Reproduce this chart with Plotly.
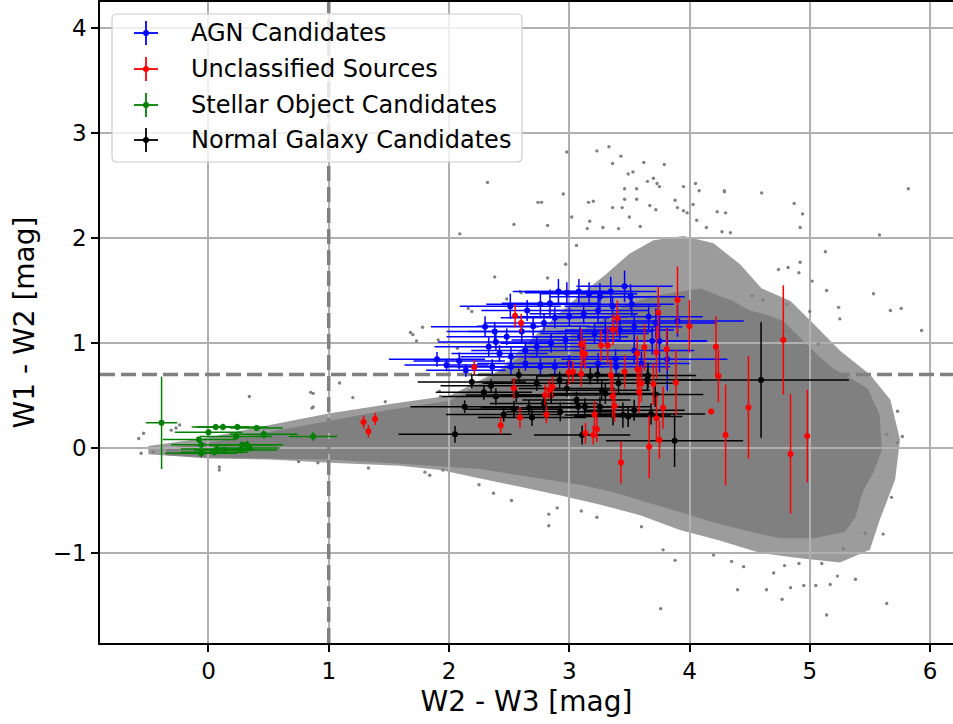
import plotly.graph_objects as go

# ---------------- data ----------------
# dense core of the background WISE population (outline, W2-W3 / W1-W2)
core_x = [-0.35, 0.0, 0.49, 1.01, 1.48, 2.01, 2.3, 2.6, 2.9, 3.2, 3.45, 3.7, 4.09, 4.36, 4.5, 4.64, 4.78,
          4.92, 5.06, 5.19, 5.33, 5.48, 5.58, 5.6, 5.53, 5.44, 5.38, 5.29, 5.03, 4.75, 4.48, 4.2, 3.92,
          3.65, 3.36, 3.09, 2.81, 2.53, 2.26, 2.01, 1.59, 1.01, 0.49, 0.0, -0.35]
core_y = [0.0, 0.05, 0.15, 0.26, 0.36, 0.45, 0.64, 0.87, 1.02, 1.17, 1.35, 1.45, 1.52, 1.40, 1.31, 1.27, 1.21,
          1.05, 0.89, 0.76, 0.67, 0.57, 0.32, -0.02, -0.23, -0.42, -0.66, -0.80, -0.86, -0.86, -0.79, -0.71, -0.61,
          -0.52, -0.42, -0.35, -0.30, -0.25, -0.20, -0.18, -0.15, -0.11, -0.10, -0.09, -0.07]
# sparser halo around the core (outline)
halo_x = [-0.5, 0.0, 0.51, 1.01, 1.51, 2.01, 2.42, 2.76, 3.05, 3.3, 3.5, 3.7, 3.95, 4.2, 4.42, 4.6, 4.84, 5.0,
          5.25, 5.5, 5.67, 5.75, 5.71, 5.58, 5.5, 5.25, 4.92, 4.59, 4.25, 3.92, 3.59, 3.26, 2.92, 2.59, 2.26,
          1.93, 1.59, 1.01, 0.51, 0.0, -0.5]
halo_y = [0.02, 0.1, 0.22, 0.33, 0.42, 0.5, 0.74, 1.12, 1.42, 1.65, 1.85, 1.98, 2.02, 1.95, 1.75, 1.52, 1.40, 1.22,
          0.93, 0.7, 0.46, 0.08, -0.3, -0.69, -0.97, -1.09, -1.05, -1.0, -0.88, -0.78, -0.64, -0.54, -0.45, -0.37,
          -0.29, -0.21, -0.17, -0.14, -0.11, -0.1, -0.06]
# isolated background sources
field_x = [2.32, 2.09, 2.54, 2.74, 2.77, 2.82, 2.95, 2.98, 3.02, 3.23, 3.33, 3.36, 3.43, 3.49, 3.53, 3.62, 3.79,
           3.7, 3.65, 3.73, 3.75, 3.46, 3.56, 3.56, 3.46, 3.36, 3.16, 3.2, 3.17, 3.28, 3.44, 3.5, 3.67, 3.72,
           3.59, 3.88, 3.95, 4.05, 4.08, 4.29, 3.9, 4.03, 3.95, 3.98, 4.06, 4.14, 4.23, 4.3, 4.27, 4.34, 2.38,
           2.82, 2.59, 2.48, 2.97, 3.06, 3.15, 3.41,
           4.29, 4.6, 4.87, 4.94, 4.92, 5.82, 5.58, 5.13, 4.92, 4.82, 4.74, 4.91, 5.02, 5.14, 5.53, 5.24, 5.25,
           5.67, 5.76, 5.93, 5.0, 5.07, 4.52, 4.61, 4.81, 5.73, 5.77,
           3.76, 5.64, 5.14, 4.4, 4.77, 4.64, 4.84, 4.95, 5.05, 5.17, 5.38, 5.23, 5.68, 5.61, 5.73, 5.64, 2.83,
           2.83, 2.9, 2.52, 2.37, 3.88, 4.2, 4.35, 4.45, 4.7, 4.79, 4.91, 5.1, 5.28, 5.46, 3.78, 3.6, 3.23, 3.1,
           2.25, 1.95,
           0.34, 0.85, 0.87, 0.86, 0.87, 1.09, 1.2, 1.47, 1.92, 1.93, -0.58, -0.54, -0.56, -0.46, -0.31, -0.27,
           -0.24, 0.09, 0.09, 0.75, 0.91, 1.33, 1.8, 1.84,
           2.6, 2.16, 2.19, 1.78, 1.68, 1.7, 1.73, 1.91, 2.07]
field_y = [2.53, 2.04, 2.13, 2.34, 2.34, 2.12, 2.42, 2.82, 2.2, 2.83, 2.87, 2.71, 2.78, 2.61, 2.63, 2.72, 2.7,
           2.57, 2.54, 2.52, 2.49, 2.47, 2.47, 2.37, 2.37, 2.29, 2.34, 2.35, 2.16, 2.1, 2.29, 2.2, 2.31, 2.27,
           2.11, 2.36, 2.49, 2.52, 2.45, 2.45, 2.29, 2.32, 2.26, 2.24, 2.17, 2.1, 2.25, 2.24, 2.06, 2.05, 1.63,
           1.62, 1.49, 1.42, 1.75, 1.93, 2.09, 2.09,
           2.44, 2.43, 2.33, 2.23, 2.1, 2.47, 2.03, 1.87, 1.77, 1.72, 1.7, 1.67, 1.59, 1.5, 1.47, 1.34, 1.23,
           1.31, 1.33, 1.12, 1.3, 0.99, 1.45, 1.41, 1.37, 0.35, 0.11,
           -1.53, -1.48, -1.59, -1.35, -1.44, -1.35, -1.33, -1.31, -1.31, -1.3, -1.25, -1.22, -0.47, -0.82, 0.05,
           0.13, -0.74, -0.63, -0.57, -0.5, -0.43, -1.07, -1.02, -1.08, -1.13, -1.19, -1.12, -1.1, -1.1, -0.96,
           -0.81, -0.97, -0.75, -0.66, -0.6, -0.35, -0.21,
           0.49, 0.53, 0.52, 0.38, 0.39, 0.62, 0.48, 0.44, 0.54, 0.49, 0.09, 0.14, -0.05, -0.04, 0.17, 0.19,
           0.22, -0.21, -0.18, -0.13, -0.14, -0.19, -0.23, -0.26,
           1.48, 1.33, 1.3, 1.15, 1.1, 1.08, 1.02, 1.03, 0.95]

agn_x = [1.90, 1.98, 2.085, 2.14, 2.30, 2.38, 2.51, 2.65, 2.76, 2.84, 2.91, 2.98, 3.08, 3.165, 3.255, 3.345,
         3.46, 3.51, 3.52, 3.36, 3.24, 3.12, 3.0, 2.88, 2.79, 2.70, 2.605, 2.48, 2.39, 2.33, 2.42, 2.515, 2.635,
         2.73, 2.85, 2.97, 3.09, 3.21, 3.30, 3.42, 3.54, 3.69, 3.75, 3.815, 3.90, 3.385, 3.54, 3.0, 2.88, 2.76,
         2.635, 2.515, 2.36, 3.12, 3.24, 3.39, 3.60, 3.66, 3.72]
agn_y = [0.845, 0.79, 0.83, 0.74, 1.155, 1.11, 1.35, 1.31, 1.37, 1.38, 1.49, 1.48, 1.49, 1.47, 1.44, 1.49,
         1.54, 1.44, 1.37, 1.35, 1.31, 1.28, 1.25, 1.24, 1.19, 1.16, 1.11, 1.06, 1.01, 0.965, 0.90, 0.87, 0.93,
         0.965, 0.997, 1.03, 1.06, 1.09, 1.11, 1.125, 1.155, 1.02, 1.02, 0.845, 1.21, 0.845, 0.93, 0.806, 0.775,
         0.775, 0.806, 0.775, 0.775, 0.87, 0.806, 0.775, 0.806, 1.25, 1.19]
agn_xerr = [0.40, 0.35, 0.38, 0.33, 0.45, 0.40, 0.42, 0.38, 0.45, 0.40, 0.38, 0.35, 0.45, 0.40, 0.42, 0.38,
            0.40, 0.45, 0.35, 0.40, 0.42, 0.45, 0.48, 0.45, 0.50, 0.47, 0.45, 0.50, 0.48, 0.45, 0.40, 0.42, 0.45,
            0.40, 0.42, 0.45, 0.40, 0.45, 0.40, 0.45, 0.40, 0.45, 0.40, 0.50, 0.55, 0.45, 0.50, 0.42, 0.40, 0.42,
            0.40, 0.45, 0.40, 0.45, 0.42, 0.45, 0.40, 0.45, 0.50]
agn_yerr = [0.07, 0.06, 0.08, 0.06, 0.10, 0.09, 0.12, 0.10, 0.11, 0.13, 0.12, 0.10, 0.12, 0.11, 0.13, 0.14,
            0.15, 0.12, 0.11, 0.10, 0.11, 0.10, 0.09, 0.10, 0.09, 0.09, 0.10, 0.08, 0.08, 0.09, 0.08, 0.09, 0.08,
            0.10, 0.09, 0.10, 0.11, 0.10, 0.12, 0.11, 0.12, 0.13, 0.30, 0.30, 0.15, 0.10, 0.12, 0.08, 0.07, 0.08,
            0.07, 0.08, 0.07, 0.09, 0.10, 0.08, 0.11, 0.12, 0.14]

unc_x = [2.21, 2.55, 2.60, 2.43, 2.59, 2.54, 2.81, 2.80, 2.835, 2.86, 2.995, 3.03, 3.10, 3.10, 3.11, 3.13,
         3.135, 3.20, 3.23, 3.21, 3.265, 3.32, 3.364, 3.40, 3.346, 3.36, 3.376, 3.43, 3.46, 3.567, 3.58, 3.60,
         3.625, 3.565, 3.665, 3.70, 3.725, 3.74, 3.725, 3.75, 3.78, 3.81, 3.887, 3.90, 4.00, 4.18, 4.22, 4.24,
         4.30, 4.49, 4.78, 4.84, 4.98, 1.29, 1.33, 1.385]
unc_y = [0.77, 1.26, 1.19, 0.216, 0.29, 0.57, 0.317, 0.505, 0.556, 0.58, 0.72, 0.727, 0.705, 0.987, 0.908,
         0.895, 0.14, 0.124, 0.178, 0.32, 0.98, 0.98, 1.13, 1.235, 0.692, 0.49, 0.40, -0.137, 0.727, 0.75, 0.536,
         0.616, 0.959, 0.901, 0.013, 0.61, 0.91, 1.29, 0.283, 0.076, 0.384, 0.94, 0.625, 1.41, 1.16, 0.347, 0.965,
         0.686, 0.124, 0.387, 1.03, -0.057, 0.114, 0.248, 0.16, 0.276]
unc_yerr = [0.07, 0.11, 0.09, 0.08, 0.10, 0.10, 0.08, 0.10, 0.09, 0.10, 0.12, 0.10, 0.12, 0.15, 0.12, 0.14,
            0.10, 0.09, 0.12, 0.13, 0.15, 0.18, 0.15, 0.17, 0.15, 0.20, 0.15, 0.20, 0.16, 0.18, 0.20, 0.18, 0.22,
            0.16, 0.30, 0.20, 0.25, 0.25, 0.22, 0.18, 0.20, 0.20, 0.31, 0.32, 0.25, 0.0, 0.29, 0.25, 0.48, 0.49,
            0.52, 0.57, 0.44, 0.06, 0.06, 0.06]

star_x = [-0.39, 0.0, -0.08, -0.06, -0.06, 0.05, 0.07, 0.13, 0.27, 0.28, 0.32, 0.34, 0.23, 0.46, 0.87, 0.06,
          0.12, 0.24, 0.40]
star_y = [0.24, 0.15, 0.08, 0.03, -0.05, -0.04, -0.01, -0.02, -0.02, 0.03, 0.03, 0.0, 0.11, 0.13, 0.11, 0.2,
          0.2, 0.2, 0.19]
star_xerr = [0.13, 0.28, 0.3, 0.25, 0.3, 0.28, 0.3, 0.25, 0.3, 0.28, 0.3, 0.25, 0.3, 0.28, 0.2, 0.2, 0.22,
             0.25, 0.22]
star_yerr = [0.44, 0.03, 0.03, 0.03, 0.04, 0.03, 0.03, 0.03, 0.03, 0.03, 0.04, 0.03, 0.03, 0.04, 0.04, 0.03,
             0.03, 0.03, 0.03]

gal_x = [2.05, 2.13, 2.19, 2.29, 2.35, 2.455, 2.54, 2.56, 2.58, 2.69, 2.665, 2.73, 2.85, 2.925, 2.98, 3.06,
         3.075, 3.107, 3.13, 3.175, 3.235, 3.255, 3.30, 3.364, 3.41, 3.446, 3.49, 3.655, 3.65, 3.715, 3.68,
         3.876, 4.595, 2.92, 2.79, 2.39, 3.27, 3.54]
gal_y = [0.13, 0.394, 0.63, 0.53, 0.594, 0.32, 0.37, 0.505, 0.695, 0.29, 0.384, 0.616, 0.505, 0.346, 0.568,
         0.457, 0.394, 0.124, 0.394, 0.686, 0.70, 0.394, 0.52, 0.314, 0.616, 0.314, 0.30, 0.69, 0.65, 0.51,
         0.324, 0.07, 0.648, 0.648, 0.425, 0.49, 0.55, 0.36]
gal_xerr = [0.47, 0.45, 0.45, 0.40, 0.42, 0.48, 0.40, 0.42, 0.40, 0.45, 0.40, 0.45, 0.42, 0.45, 0.40, 0.45,
            0.40, 0.40, 0.42, 0.45, 0.40, 0.42, 0.45, 0.40, 0.45, 0.40, 0.45, 0.40, 0.45, 0.40, 0.45, 0.57,
            0.73, 0.40, 0.45, 0.45, 0.40, 0.42]
gal_yerr = [0.08, 0.06, 0.06, 0.07, 0.06, 0.07, 0.08, 0.07, 0.06, 0.08, 0.07, 0.07, 0.08, 0.09, 0.08, 0.08,
            0.09, 0.09, 0.08, 0.08, 0.09, 0.09, 0.10, 0.10, 0.10, 0.12, 0.10, 0.12, 0.10, 0.12, 0.10, 0.25,
            0.55, 0.08, 0.09, 0.08, 0.09, 0.10]

legend_names = ["AGN Candidates", "Unclassified Sources", "Stellar Object Candidates", "Normal Galaxy Candidates"]
legend_colors = ["blue", "red", "green", "black"]

x_range = [-0.902, 6.191]
y_range = [-1.857, 4.248]
x_cut = 1.0
y_cut = 0.7

# ---------------- layout constants ----------------
W, H = 953, 724
ML, MR, MT, MB = 100, 0, 2, 81
PW, PH = W - ML - MR, H - MT - MB
FONT = "DejaVu Sans"
GRAY = "#808080"


def path_from(xs, ys):
    pts = " L ".join(f"{a},{b}" for a, b in zip(xs, ys))
    return "M " + pts + " Z"


def pxx(px):
    return (px - ML) / PW


def pxy(py):
    return (H - MB - py) / PH


fig = go.Figure()

# background population
fig.add_trace(go.Scatter(x=field_x, y=field_y, mode="markers", showlegend=False, hoverinfo="skip",
                         marker=dict(color=GRAY, size=3.4, line=dict(width=0))))

# selection cuts (dashed)
dash_style = dict(color=GRAY, width=3.5, dash="15px,6px")
fig.add_trace(go.Scatter(x=[x_cut, x_cut], y=y_range, mode="lines", line=dash_style,
                         showlegend=False, hoverinfo="skip"))
fig.add_trace(go.Scatter(x=x_range, y=[y_cut, y_cut], mode="lines", line=dash_style,
                         showlegend=False, hoverinfo="skip"))


def add_err(x, y, xe, ye, color):
    kw = dict(x=x, y=y, mode="markers", showlegend=False,
              marker=dict(color=color, size=6, line=dict(width=0)))
    if xe is not None:
        kw["error_x"] = dict(type="data", array=xe, color=color, thickness=1.5, width=0)
    if ye is not None:
        kw["error_y"] = dict(type="data", array=ye, color=color, thickness=1.5, width=0)
    fig.add_trace(go.Scatter(**kw))


add_err(agn_x, agn_y, agn_xerr, agn_yerr, "blue")
add_err(gal_x, gal_y, gal_xerr, gal_yerr, "black")
add_err(star_x, star_y, star_xerr, star_yerr, "green")
add_err(unc_x, unc_y, None, unc_yerr, "red")

shapes = [
    dict(type="path", xref="x", yref="y", path=path_from(halo_x, halo_y), layer="below",
         fillcolor="rgba(128,128,128,0.78)", line=dict(width=0)),
    dict(type="path", xref="x", yref="y", path=path_from(core_x, core_y), layer="below",
         fillcolor=GRAY, line=dict(width=0)),
]

# legend box (matplotlib style)
bx0, bx1, by0, by1 = pxx(112), pxx(522), pxy(162), pxy(14)
rx, ry = 5 / PW, 5 / PH
legend_path = (f"M {bx0+rx},{by0} L {bx1-rx},{by0} Q {bx1},{by0} {bx1},{by0+ry} L {bx1},{by1-ry} "
               f"Q {bx1},{by1} {bx1-rx},{by1} L {bx0+rx},{by1} Q {bx0},{by1} {bx0},{by1-ry} "
               f"L {bx0},{by0+ry} Q {bx0},{by0} {bx0+rx},{by0} Z")
shapes.append(dict(type="path", xref="paper", yref="paper", path=legend_path, layer="above",
                   fillcolor="rgba(255,255,255,0.8)", line=dict(color="#cccccc", width=1.2)))
annotations = []
rows = [33, 69, 105, 140]
for name, col, ry_px in zip(legend_names, legend_colors, rows):
    cx = 146
    shapes.append(dict(type="line", xref="paper", yref="paper", x0=pxx(cx - 12), x1=pxx(cx + 12),
                       y0=pxy(ry_px), y1=pxy(ry_px), layer="above", line=dict(color=col, width=1.8)))
    shapes.append(dict(type="line", xref="paper", yref="paper", x0=pxx(cx), x1=pxx(cx),
                       y0=pxy(ry_px - 12), y1=pxy(ry_px + 12), layer="above", line=dict(color=col, width=1.8)))
    shapes.append(dict(type="circle", xref="paper", yref="paper", x0=pxx(cx - 3), x1=pxx(cx + 3),
                       y0=pxy(ry_px + 3), y1=pxy(ry_px - 3), layer="above", fillcolor=col,
                       line=dict(width=0)))
    annotations.append(dict(xref="paper", yref="paper", x=pxx(189), y=pxy(ry_px), text=name,
                            showarrow=False, xanchor="left", yanchor="middle",
                            font=dict(family=FONT, size=24, color="black")))

axis_common = dict(showgrid=True, gridcolor="#b0b0b0", gridwidth=1.5, zeroline=False,
                   showline=True, linecolor="black", linewidth=1.6, ticks="outside", ticklen=7,
                   tickwidth=1.6, tickcolor="black", tickfont=dict(family=FONT, size=23, color="black"))

fig.update_layout(
    width=W, height=H, margin=dict(l=ML, r=MR, t=MT, b=MB),
    paper_bgcolor="white", plot_bgcolor="white",
    shapes=shapes, annotations=annotations,
    xaxis=dict(range=x_range, tickvals=[0, 1, 2, 3, 4, 5, 6], mirror=True,
               title=dict(text="W2 - W3 [mag]", font=dict(family=FONT, size=28, color="black"), standoff=8),
               **axis_common),
    yaxis=dict(range=y_range, tickvals=[-1, 0, 1, 2, 3, 4],
               title=dict(text="W1 - W2 [mag]", font=dict(family=FONT, size=28, color="black"), standoff=10),
               **axis_common),
)

fig.write_html("out.html")
